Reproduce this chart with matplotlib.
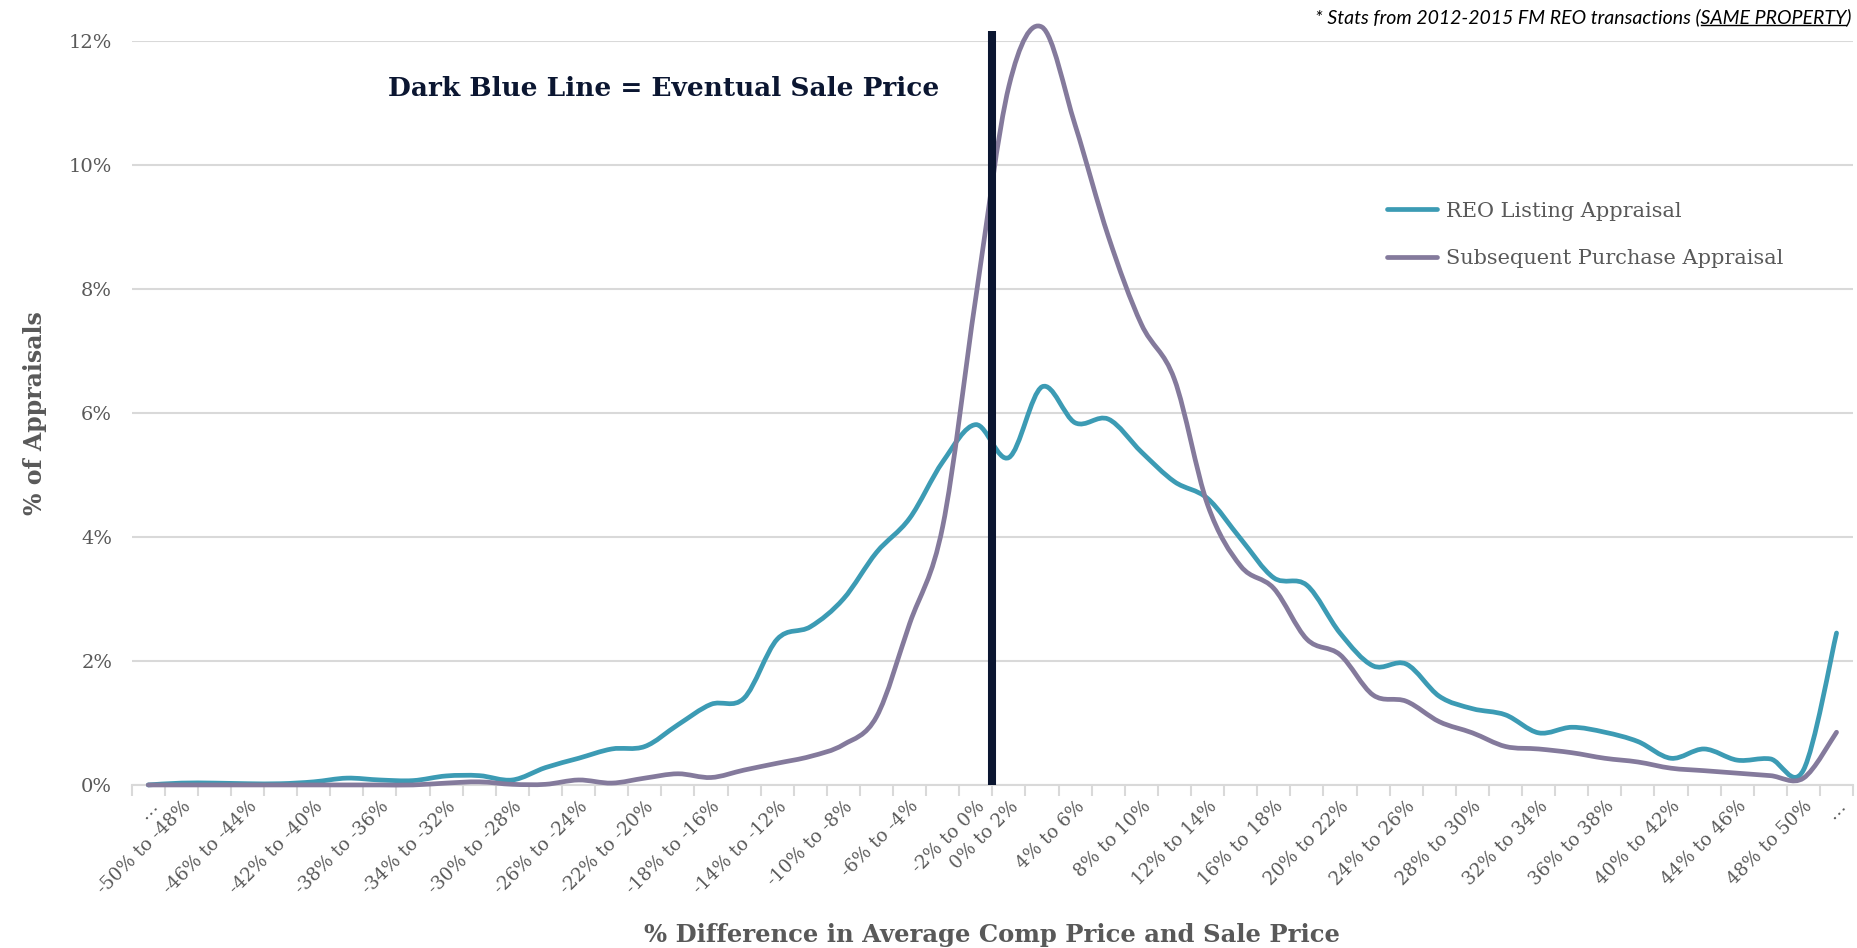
import numpy as np
import matplotlib.pyplot as plt
from matplotlib.path import Path
from matplotlib.patches import PathPatch
from matplotlib.lines import Line2D

# categories: 2% bins from -50% to 50%, plus open-ended bins at each end
bins = ['…'] + [f'{a}% to {a + 2}%' for a in range(-50, 50, 2)] + ['…']
shown = [0] + list(range(1, 26, 2)) + list(range(26, 51, 2)) + [51]

# % of appraisals per bin
reo_listing = [0.00, 0.03, 0.03, 0.02, 0.02, 0.05, 0.11, 0.08, 0.07, 0.145,
               0.15, 0.08, 0.28, 0.43, 0.58, 0.62, 0.97, 1.30, 1.40, 2.35,
               2.55, 3.00, 3.75, 4.30, 5.21, 5.81, 5.28, 6.42, 5.84, 5.90,
               5.37, 4.89, 4.62, 3.97, 3.34, 3.22, 2.45, 1.92, 1.95, 1.43,
               1.23, 1.13, 0.84, 0.93, 0.85, 0.70, 0.43, 0.58, 0.40, 0.42,
               0.24, 2.45]
purchase = [0.00, 0.00, 0.00, 0.00, 0.00, 0.00, 0.00, 0.00, 0.00, 0.03,
            0.05, 0.01, 0.01, 0.08, 0.03, 0.11, 0.18, 0.12, 0.24, 0.35,
            0.46, 0.65, 1.10, 2.60, 4.17, 7.86, 11.27, 12.22, 10.64, 8.85,
            7.43, 6.54, 4.52, 3.53, 3.17, 2.35, 2.10, 1.45, 1.35, 1.02,
            0.84, 0.62, 0.58, 0.52, 0.43, 0.37, 0.27, 0.23, 0.19, 0.15,
            0.11, 0.85]
sale_price_pos = 25.5   # boundary between "-2% to 0%" and "0% to 2%"

teal = '#3C9BB4'
purple = '#847A9C'
navy = '#0B1631'
grey = '#595959'
gridc = '#D9D9D9'


# excel-like smoothed line (bezier through the points)
def smooth_path(y):
    pts = np.column_stack([np.arange(len(y)), y])
    verts = [pts[0]]
    codes = [Path.MOVETO]
    for i in range(len(pts) - 1):
        p0 = pts[i - 1] if i > 0 else pts[i]
        p1 = pts[i]
        p2 = pts[i + 1]
        p3 = pts[i + 2] if i + 2 < len(pts) else pts[i + 1]
        verts += [p1 + (p2 - p0) / 6, p2 - (p3 - p1) / 6, p2]
        codes += [Path.CURVE4] * 3
    return Path(verts, codes)


plt.rcParams['font.family'] = 'DejaVu Serif'
fig = plt.figure(figsize=(18.57, 9.48), dpi=100)
ax = fig.add_axes([0.0709, 0.172, 0.927, 0.785])

for vals, col in [(reo_listing, teal), (purchase, purple)]:
    ax.add_patch(PathPatch(smooth_path(vals), facecolor='none', edgecolor=col,
                           lw=3.4, capstyle='round', joinstyle='round', zorder=3,
                           clip_on=False))

ax.vlines(sale_price_pos, 0, 12.15, color=navy, lw=5.8, zorder=4, clip_on=False)

ax.set_xlim(-0.5, len(bins) - 0.5)
ax.set_ylim(0, 12)
ax.set_yticks(range(0, 13, 2))
ax.set_yticklabels([f'{v}%' for v in range(0, 13, 2)])
ax.set_xticks(shown)
ax.set_xticklabels([bins[i] for i in shown], rotation=45, ha='right',
                   rotation_mode='anchor')
ax.set_xticks(np.arange(-0.5, len(bins), 1), minor=True)
ax.tick_params(axis='x', which='major', length=0, pad=9, labelsize=13.2, labelcolor=grey)
ax.tick_params(axis='x', which='minor', length=8, width=1.5, color=gridc)
ax.tick_params(axis='y', length=0, pad=14, labelsize=14, labelcolor=grey)

ax.grid(axis='y', color=gridc, lw=1.5)
ax.set_axisbelow(True)
for s in ['top', 'right', 'left']:
    ax.spines[s].set_visible(False)
ax.spines['bottom'].set_color(gridc)
ax.spines['bottom'].set_linewidth(1.5)

ax.set_ylabel('% of Appraisals', fontsize=17, fontweight='bold', color=grey, labelpad=16)
ax.set_xlabel('% Difference in Average Comp Price and Sale Price', fontsize=17.5,
              fontweight='bold', color=grey, labelpad=18)

ax.text(0.209, 0.907, 'Dark Blue Line = Eventual Sale Price', transform=fig.transFigure,
        fontsize=19, fontweight='bold', color=navy, va='center', ha='left')

handles = [Line2D([], [], color=teal, lw=3.4, solid_capstyle='round'),
           Line2D([], [], color=purple, lw=3.4, solid_capstyle='round')]
ax.legend(handles, ['REO Listing Appraisal', 'Subsequent Purchase Appraisal'],
          loc='upper left', bbox_to_anchor=(0.737, 0.807), bbox_transform=fig.transFigure,
          frameon=False, fontsize=15, handlelength=2.4, handletextpad=0.4,
          labelspacing=1.35, labelcolor=grey)

# footnote with underlined part
fs_note = 14
note = fig.text(0.997, 0.982, '* Stats from 2012-2015 FM REO transactions (SAME PROPERTY)',
                fontsize=fs_note, style='italic', family='Lato', ha='right', va='center')
r = fig.canvas.get_renderer()
w_tail = fig.text(0, 0, 'SAME PROPERTY)', fontsize=fs_note, style='italic', family='Lato')
w_par = fig.text(0, 0, ')', fontsize=fs_note, style='italic', family='Lato')
bb_note = note.get_window_extent(r)
x1 = bb_note.x1 - w_tail.get_window_extent(r).width
x2 = bb_note.x1 - w_par.get_window_extent(r).width
w_tail.remove()
w_par.remove()
yl = bb_note.y0 + 1
fig.add_artist(Line2D([x1 / fig.bbox.width, x2 / fig.bbox.width],
                      [yl / fig.bbox.height] * 2, color='black', lw=1.0,
                      transform=fig.transFigure))

fig.savefig('out.png', dpi=100)
